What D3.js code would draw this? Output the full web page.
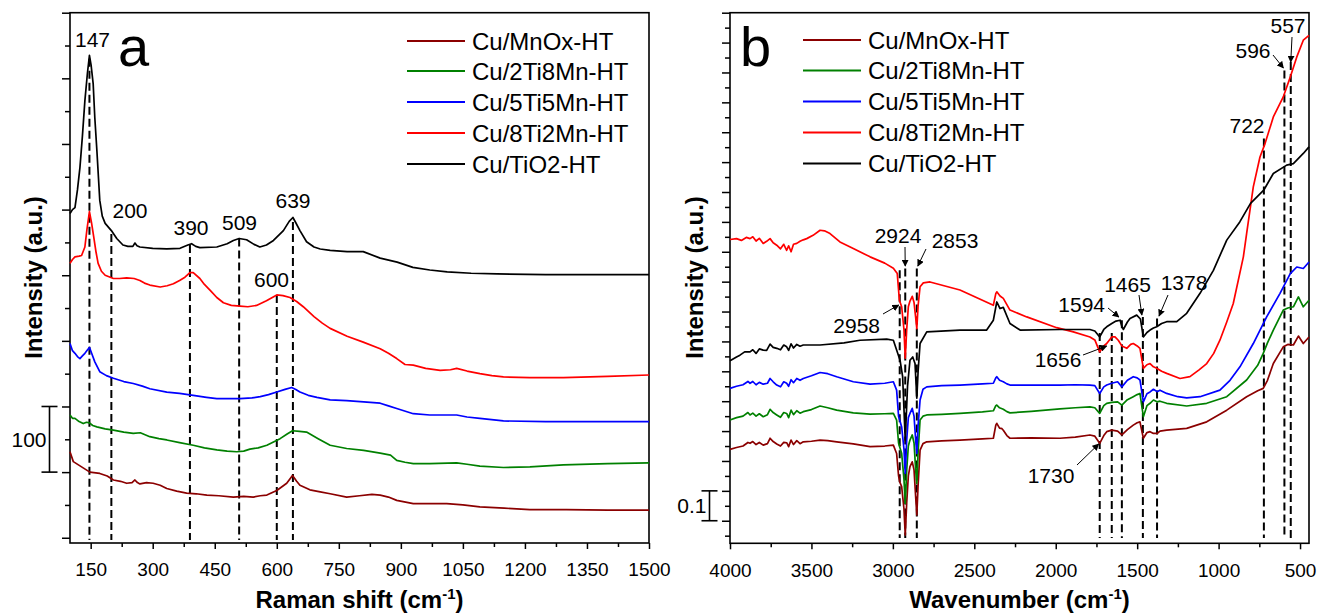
<!DOCTYPE html>
<html>
<head>
<meta charset="utf-8">
<script src="https://cdn.jsdelivr.net/npm/d3@7"></script>
<style>
  body { margin: 0; background: #fff; }
  text { font-family: "Liberation Sans", Arial, sans-serif; fill: #000; }
</style>
</head>
<body>
<svg id="chart" width="1319" height="614"></svg>
<script>
// ---- data ----
var seriesNames = ["Cu/MnOx-HT", "Cu/2Ti8Mn-HT", "Cu/5Ti5Mn-HT", "Cu/8Ti2Mn-HT", "Cu/TiO2-HT"];
var seriesColors = ["#8b0000", "#008000", "#0000ff", "#ff0000", "#000000"];

// Raman spectra, [shift cm-1, intensity]
var ramanMnOx = [[100,131],[108,116],[128,108],[148,100],[172,98],[190,94],[205,88],[222,86],[237,83],[250,84],[257,88],[263,84],[269,82],[285,84],[301,83],[318,80],[334,75],[358,71],[382,68],[405,67],[431,65],[460,64],[495,62],[520,63],[543,62],[560,64],[576,65],[600,72],[624,83],[638,95],[648,86],[656,80],[680,73],[705,70],[729,67],[769,62],[800,64],[830,66],[850,65],[870,62],[890,57],[930,52],[970,52],[1011,52],[1050,50],[1091,47],[1150,45],[1212,43],[1300,43],[1400,42],[1500,42]];
var raman2Ti8Mn = [[100,187],[106,182],[112,182],[122,177],[132,174],[140,176],[147,175],[155,171],[165,169],[185,166],[205,164],[230,161],[253,159],[270,160],[293,154],[315,151],[334,149],[365,145],[398,141],[425,137],[455,134],[480,132],[503,131],[520,132],[535,135],[555,137],[576,141],[592,146],[608,151],[625,158],[638,163],[655,162],[672,161],[700,151],[729,141],[769,136],[810,133],[850,129],[875,126],[890,118],[910,115],[930,113],[970,113],[1035,114],[1060,112],[1091,109],[1148,107],[1212,108],[1293,111],[1400,113],[1500,114]];
var raman5Ti5Mn = [[100,296],[106,285],[112,281],[118,276],[124,273],[130,277],[136,281],[142,286],[147,290],[153,280],[160,268],[172,253],[188,247],[205,243],[230,238],[253,235],[275,231],[293,227],[334,222],[365,220],[398,217],[430,214],[455,212],[511,212],[540,213],[560,215],[580,218],[600,222],[620,226],[636,229],[646,226],[656,222],[676,217],[697,214],[729,210],[769,209],[810,207],[850,205],[870,201],[890,197],[930,189],[970,187],[1003,187],[1035,187],[1060,184],[1091,182],[1148,178],[1250,177],[1350,177],[1500,177]];
var raman8Ti2Mn = [[100,418],[106,424],[112,428],[122,429],[128,430],[136,443],[141,470],[147,497],[152,480],[157,460],[163,435],[168,418],[176,406],[185,400],[205,395],[220,395],[237,396],[255,395],[269,392],[280,388],[293,385],[318,382],[335,384],[350,387],[365,392],[378,397],[390,404],[398,404],[414,395],[425,386],[439,377],[455,366],[471,358],[490,354],[511,353],[530,352],[551,354],[575,361],[600,370],[615,369],[632,366],[648,360],[664,352],[690,337],[710,327],[729,319],[770,307],[809,298],[850,288],[870,281],[890,273],[910,264],[930,263],[960,258],[995,255],[1020,256],[1035,258],[1060,254],[1091,250],[1120,247],[1148,245],[1212,244],[1293,244],[1400,246],[1500,248]];
var ramanTiO2 = [[100,494],[106,500],[112,503],[118,530],[124,564],[130,612],[136,666],[142,707],[147,735],[151,720],[156,692],[160,640],[165,590],[172,514],[178,490],[185,479],[200,468],[213,456],[228,446],[240,444],[252,444],[257,449],[262,445],[269,443],[300,441],[334,440],[366,441],[385,446],[394,448],[404,444],[414,442],[455,443],[480,448],[495,453],[509,456],[527,454],[545,447],[559,443],[575,446],[592,453],[616,468],[630,482],[639,488],[646,480],[656,468],[672,451],[690,443],[705,440],[729,438],[770,436],[809,436],[850,426],[891,420],[929,412],[970,408],[1012,405],[1070,403],[1133,402],[1250,401],[1400,401],[1500,401]];

// FTIR spectra, [wavenumber cm-1, absorbance]
var ftirMnOx = [[4000,0.239],[3960,0.245],[3920,0.250],[3890,0.262],[3877,0.259],[3860,0.265],[3840,0.255],[3820,0.262],[3796,0.253],[3770,0.258],[3754,0.276],[3735,0.265],[3713,0.257],[3690,0.250],[3670,0.262],[3652,0.261],[3640,0.248],[3625,0.270],[3610,0.255],[3590,0.268],[3570,0.258],[3550,0.264],[3500,0.266],[3447,0.270],[3400,0.268],[3345,0.264],[3243,0.257],[3140,0.248],[3050,0.250],[2997,0.253],[2977,0.225],[2965,0.150],[2958,0.130],[2946,0.114],[2932,0.040],[2924,-0.048],[2915,0.060],[2905,0.150],[2895,0.181],[2881,0.197],[2870,0.170],[2860,0.080],[2853,0.019],[2845,0.120],[2833,0.236],[2815,0.258],[2792,0.264],[2700,0.267],[2588,0.270],[2450,0.274],[2383,0.276],[2368,0.320],[2362,0.326],[2345,0.310],[2330,0.308],[2322,0.303],[2300,0.285],[2281,0.276],[2150,0.277],[1974,0.276],[1880,0.280],[1790,0.287],[1760,0.283],[1730,0.259],[1705,0.285],[1687,0.298],[1656,0.303],[1620,0.300],[1594,0.287],[1560,0.305],[1524,0.320],[1500,0.328],[1483,0.331],[1462,0.276],[1440,0.295],[1421,0.298],[1400,0.292],[1378,0.292],[1360,0.300],[1319,0.303],[1196,0.309],[1073,0.331],[950,0.370],[828,0.415],[760,0.435],[726,0.443],[700,0.470],[664,0.526],[603,0.582],[575,0.590],[541,0.588],[510,0.618],[480,0.593],[445,0.615]];
var ftir2Ti8Mn = [[4000,0.337],[3960,0.345],[3920,0.350],[3890,0.362],[3877,0.354],[3860,0.360],[3840,0.350],[3820,0.358],[3796,0.348],[3770,0.355],[3754,0.373],[3735,0.362],[3713,0.354],[3690,0.346],[3670,0.362],[3652,0.359],[3640,0.345],[3625,0.370],[3610,0.355],[3590,0.368],[3570,0.360],[3550,0.365],[3500,0.372],[3447,0.384],[3400,0.378],[3345,0.370],[3243,0.361],[3140,0.357],[3050,0.358],[2997,0.359],[2977,0.337],[2965,0.260],[2958,0.247],[2946,0.225],[2932,0.140],[2924,0.058],[2915,0.170],[2905,0.250],[2895,0.270],[2881,0.287],[2870,0.260],[2860,0.170],[2853,0.125],[2845,0.230],[2833,0.337],[2815,0.350],[2792,0.354],[2700,0.356],[2588,0.359],[2450,0.364],[2383,0.368],[2368,0.385],[2362,0.387],[2345,0.378],[2322,0.373],[2300,0.365],[2281,0.361],[2150,0.366],[1974,0.374],[1880,0.378],[1790,0.381],[1760,0.378],[1730,0.359],[1705,0.385],[1687,0.393],[1656,0.396],[1620,0.398],[1594,0.387],[1560,0.405],[1524,0.415],[1500,0.422],[1483,0.426],[1462,0.348],[1440,0.385],[1421,0.393],[1400,0.404],[1378,0.398],[1360,0.400],[1319,0.393],[1196,0.384],[1073,0.393],[950,0.415],[828,0.471],[760,0.520],[726,0.560],[700,0.595],[664,0.638],[603,0.705],[575,0.712],[541,0.716],[510,0.749],[480,0.716],[445,0.738]];
var ftir5Ti5Mn = [[4000,0.443],[3960,0.450],[3920,0.455],[3890,0.466],[3877,0.460],[3860,0.466],[3840,0.455],[3820,0.463],[3796,0.457],[3770,0.460],[3754,0.476],[3735,0.465],[3713,0.454],[3690,0.448],[3670,0.465],[3652,0.460],[3640,0.450],[3625,0.472],[3610,0.462],[3590,0.476],[3570,0.470],[3550,0.476],[3500,0.485],[3447,0.496],[3400,0.492],[3345,0.482],[3243,0.465],[3140,0.457],[3050,0.460],[2997,0.465],[2977,0.437],[2965,0.350],[2958,0.337],[2946,0.314],[2932,0.240],[2924,0.158],[2915,0.270],[2905,0.345],[2895,0.359],[2881,0.376],[2870,0.350],[2860,0.270],[2853,0.225],[2845,0.320],[2833,0.404],[2815,0.440],[2792,0.448],[2700,0.452],[2588,0.454],[2450,0.458],[2383,0.460],[2368,0.478],[2362,0.482],[2345,0.470],[2322,0.465],[2300,0.458],[2281,0.454],[2150,0.454],[1974,0.454],[1880,0.455],[1790,0.454],[1760,0.452],[1730,0.426],[1705,0.448],[1687,0.454],[1656,0.460],[1620,0.465],[1594,0.448],[1560,0.470],[1524,0.482],[1500,0.478],[1483,0.471],[1462,0.398],[1440,0.425],[1421,0.431],[1400,0.440],[1378,0.432],[1360,0.437],[1319,0.426],[1250,0.415],[1196,0.411],[1114,0.415],[992,0.437],[930,0.470],[869,0.515],[787,0.593],[705,0.682],[623,0.761],[560,0.827],[520,0.849],[480,0.844],[445,0.866]];
var ftir8Ti2Mn = [[4000,0.941],[3960,0.944],[3930,0.938],[3900,0.948],[3877,0.944],[3860,0.950],[3840,0.936],[3820,0.945],[3796,0.928],[3775,0.935],[3754,0.944],[3735,0.930],[3713,0.922],[3690,0.910],[3670,0.925],[3652,0.905],[3640,0.920],[3625,0.900],[3610,0.925],[3590,0.928],[3570,0.935],[3550,0.940],[3529,0.944],[3490,0.955],[3447,0.972],[3420,0.970],[3386,0.961],[3325,0.933],[3243,0.911],[3140,0.883],[3050,0.862],[2997,0.845],[2973,0.827],[2960,0.738],[2946,0.716],[2932,0.640],[2924,0.544],[2915,0.640],[2905,0.716],[2895,0.735],[2881,0.751],[2870,0.730],[2860,0.680],[2853,0.643],[2845,0.720],[2833,0.783],[2813,0.796],[2772,0.799],[2588,0.772],[2383,0.721],[2368,0.760],[2362,0.766],[2342,0.752],[2322,0.744],[2281,0.705],[2178,0.682],[1994,0.646],[1892,0.632],[1790,0.615],[1760,0.605],[1730,0.565],[1705,0.585],[1687,0.593],[1656,0.615],[1636,0.615],[1616,0.604],[1594,0.585],[1564,0.577],[1540,0.590],[1524,0.593],[1500,0.585],[1483,0.577],[1462,0.510],[1440,0.522],[1421,0.526],[1400,0.515],[1380,0.510],[1350,0.500],[1319,0.493],[1237,0.476],[1176,0.482],[1120,0.505],[1073,0.526],[1030,0.560],[992,0.604],[950,0.665],[910,0.727],[848,0.883],[828,0.961],[787,1.117],[746,1.217],[715,1.262],[664,1.351],[603,1.418],[560,1.485],[520,1.552],[480,1.608],[445,1.624]];
var ftirTiO2 = [[4000,0.535],[3960,0.548],[3939,0.554],[3910,0.565],[3877,0.565],[3860,0.572],[3840,0.560],[3820,0.575],[3796,0.571],[3775,0.570],[3754,0.591],[3735,0.580],[3713,0.577],[3690,0.572],[3670,0.588],[3652,0.582],[3640,0.570],[3625,0.592],[3610,0.578],[3590,0.590],[3570,0.584],[3550,0.588],[3500,0.588],[3447,0.588],[3300,0.595],[3202,0.604],[3038,0.608],[2997,0.604],[2977,0.571],[2956,0.537],[2940,0.482],[2924,0.270],[2910,0.450],[2895,0.537],[2878,0.548],[2864,0.526],[2853,0.410],[2845,0.500],[2833,0.593],[2792,0.632],[2588,0.638],[2424,0.638],[2383,0.671],[2362,0.732],[2342,0.710],[2322,0.714],[2281,0.660],[2219,0.638],[1974,0.640],[1790,0.640],[1760,0.635],[1730,0.615],[1705,0.640],[1687,0.649],[1656,0.660],[1630,0.668],[1605,0.671],[1594,0.650],[1585,0.640],[1560,0.665],[1544,0.677],[1503,0.688],[1480,0.675],[1462,0.615],[1440,0.630],[1421,0.638],[1400,0.645],[1380,0.649],[1350,0.660],[1319,0.666],[1257,0.666],[1196,0.694],[1114,0.761],[1032,0.838],[950,0.939],[870,1.000],[804,1.062],[723,1.106],[664,1.162],[582,1.190],[541,1.195],[480,1.229],[445,1.251]];

// marked bands, and the value where each dashed guide starts
var ramanPeaks = [147, 200, 390, 509, 600, 639];
var ramanPeakTops = [730, 463, 446, 456, 370, 481];
var ftirPeaks = [2958, 2924, 2853, 1730, 1656, 1594, 1465, 1378, 722, 596, 557];
var ftirPeakTops = [0.838, 0.844, 0.844, 0.628, 0.628, 0.671, 0.682, 0.677, 1.279, 1.507, 1.535];

// axis ticks
var ramanTicks = [150, 300, 450, 600, 750, 900, 1050, 1200, 1350, 1500];
var ftirTicks = [4000, 3500, 3000, 2500, 2000, 1500, 1000, 500];

var ramanSeries = [ramanMnOx, raman2Ti8Mn, raman5Ti5Mn, raman8Ti2Mn, ramanTiO2];
var ftirSeries = [ftirMnOx, ftir2Ti8Mn, ftir5Ti5Mn, ftir8Ti2Mn, ftirTiO2];

// ---- layout ----
var svg = d3.select("#chart");
var left = {x0: 70, x1: 649, y0: 12.7, y1: 543};
var right = {x0: 730, x1: 1309, y0: 12.7, y1: 543.3};

var xR = d3.scaleLinear().domain([100, 1500]).range([left.x0, left.x1]);
var yR = d3.scaleLinear().domain([-8, 800]).range([left.y1, left.y0]);
var xF = d3.scaleLinear().domain([4000, 445]).range([right.x0, right.x1]);
var yF = d3.scaleLinear().domain([-0.0755, 1.7]).range([right.y1, right.y0]);

svg.append("defs").append("marker")
  .attr("id", "arrow")
  .attr("viewBox", "0 0 10 10")
  .attr("refX", 9).attr("refY", 5)
  .attr("markerWidth", 7).attr("markerHeight", 7)
  .attr("markerUnits", "userSpaceOnUse")
  .attr("orient", "auto")
  .append("path").attr("d", "M0,0 L10,5 L0,10 z").attr("fill", "#000");

function drawAxes(p, xs, ys, majorX, minorX, majorY, minorY) {
  var g = svg.append("g");
  // x major with labels
  var ax = g.append("g").attr("transform", `translate(0,${p.y1})`)
    .call(d3.axisBottom(xs).tickValues(majorX).tickSize(6).tickPadding(14).tickFormat(d3.format("d")));
  ax.select(".domain").remove();
  ax.selectAll("line").attr("stroke-width", 1.5);
  ax.selectAll("text").attr("font-size", 19).attr("font-family", "Liberation Sans, Arial, sans-serif");
  var axm = g.append("g").attr("transform", `translate(0,${p.y1})`)
    .call(d3.axisBottom(xs).tickValues(minorX).tickSize(4).tickFormat(""));
  axm.select(".domain").remove();
  axm.selectAll("line").attr("stroke-width", 1.5);
  // y ticks, no labels
  var ay = g.append("g").attr("transform", `translate(${p.x0},0)`)
    .call(d3.axisLeft(ys).tickValues(majorY).tickSize(8).tickFormat(""));
  ay.select(".domain").remove();
  ay.selectAll("line").attr("stroke-width", 1.5);
  var aym = g.append("g").attr("transform", `translate(${p.x0},0)`)
    .call(d3.axisLeft(ys).tickValues(minorY).tickSize(5).tickFormat(""));
  aym.select(".domain").remove();
  aym.selectAll("line").attr("stroke-width", 1.5);
  // frame
  g.append("rect").attr("x", p.x0).attr("y", p.y0)
    .attr("width", p.x1 - p.x0).attr("height", p.y1 - p.y0)
    .attr("fill", "none").attr("stroke", "#000").attr("stroke-width", 1.6);
}

drawAxes(left, xR, yR, ramanTicks,
  d3.range(225, 1500, 150),
  d3.range(0, 801, 100), d3.range(50, 800, 100));
drawAxes(right, xF, yF, ftirTicks,
  d3.range(3750, 600, -500),
  d3.range(0, 1.71, 0.1), d3.range(-0.05, 1.7, 0.1));

// ---- dashed guides ----
var guides = svg.append("g").attr("stroke", "#000").attr("stroke-width", 2).attr("stroke-dasharray", "8,4");
ramanPeaks.forEach(function (p, i) {
  guides.append("line").attr("x1", xR(p)).attr("x2", xR(p))
    .attr("y1", yR(ramanPeakTops[i])).attr("y2", yR(-3.5));
});
ftirPeaks.forEach(function (p, i) {
  guides.append("line").attr("x1", xF(p)).attr("x2", xF(p))
    .attr("y1", yF(ftirPeakTops[i])).attr("y2", yF(-0.058));
});

// ---- spectra ----
var lineR = d3.line().x(d => xR(d[0])).y(d => yR(d[1]));
var lineF = d3.line().x(d => xF(d[0])).y(d => yF(d[1]));

ramanSeries.forEach(function (s, i) {
  svg.append("path").datum(s).attr("d", lineR)
    .attr("fill", "none").attr("stroke", seriesColors[i]).attr("stroke-width", 1.7)
    .attr("stroke-linejoin", "round");
});
ftirSeries.forEach(function (s, i) {
  svg.append("path").datum(s).attr("d", lineF)
    .attr("fill", "none").attr("stroke", seriesColors[i]).attr("stroke-width", 1.7)
    .attr("stroke-linejoin", "round");
});

// ---- legends ----
function legend(x, rows) {
  var g = svg.append("g");
  seriesNames.forEach(function (n, i) {
    g.append("line").attr("x1", x).attr("x2", x + 58)
      .attr("y1", rows[i]).attr("y2", rows[i])
      .attr("stroke", seriesColors[i]).attr("stroke-width", 2);
    g.append("text").attr("x", x + 65).attr("y", rows[i] + 8.5)
      .attr("font-size", 24).text(n);
  });
}
legend(407, [41, 71, 102, 133, 164]);
legend(803, [40, 70.5, 101.5, 132.5, 163.5]);

// ---- panel letters ----
svg.append("text").attr("x", 118).attr("y", 66).attr("font-size", 56).text("a");
svg.append("text").attr("x", 740).attr("y", 66).attr("font-size", 56).text("b");

// ---- peak labels, left ----
var ramanLabelPos = [[92.5, 47], [130, 218], [191, 235], [239.5, 230], [271.5, 287], [293, 208]];
ramanPeaks.forEach(function (p, i) {
  svg.append("text").attr("x", ramanLabelPos[i][0]).attr("y", ramanLabelPos[i][1])
    .attr("font-size", 21).attr("text-anchor", "middle").text(p);
});

// ---- peak labels and arrows, right ----
// [label x, label baseline, arrow start x, arrow start y, arrow end dx from band, arrow end y]
var ftirLabelPos = [
  [856.7, 333, 883, 314, -1, 305],
  [898, 243, 905, 247, 0, 266],
  [955, 248, 926, 249, 1, 266],
  [1051, 483, 1077, 465, -1, 444],
  [1058, 366.7, 1083, 355, -5, 346],
  [1081.7, 311.7, 1108, 308, -3, 317],
  [1127.5, 291.7, 1139, 295, -1, 315],
  [1184, 290, 1168, 295, 2, 316],
  [1247, 133, null],
  [1253, 58, 1273, 55, -1, 68],
  [1288, 33, 1292, 37, 0, 62]
];
ftirPeaks.forEach(function (p, i) {
  var L = ftirLabelPos[i];
  svg.append("text").attr("x", L[0]).attr("y", L[1])
    .attr("font-size", 21).attr("text-anchor", "middle").text(p);
  if (L[2] != null) {
    svg.append("line").attr("x1", L[2]).attr("y1", L[3])
      .attr("x2", xF(p) + L[4]).attr("y2", L[5])
      .attr("stroke", "#000").attr("stroke-width", 1)
      .attr("marker-end", "url(#arrow)");
  }
});

// ---- scale bars ----
function scaleBar(x, yTop, yBot, label) {
  var g = svg.append("g").attr("stroke", "#000").attr("stroke-width", 1.6);
  g.append("line").attr("x1", x).attr("x2", x).attr("y1", yTop).attr("y2", yBot);
  g.append("line").attr("x1", x - 8).attr("x2", x + 8).attr("y1", yTop).attr("y2", yTop);
  g.append("line").attr("x1", x - 8).attr("x2", x + 8).attr("y1", yBot).attr("y2", yBot);
  svg.append("text").attr("x", x - 3).attr("y", (yTop + yBot) / 2 + 7.5)
    .attr("font-size", 21).attr("text-anchor", "end").text(label);
}
scaleBar(49.5, yR(200), yR(100), "100");
scaleBar(709.5, yF(0.1), yF(0), "0.1");

// ---- axis titles ----
function xTitle(cx, label) {
  var t = svg.append("text").attr("x", cx).attr("y", 608).attr("font-size", 24)
    .attr("font-weight", "bold").attr("text-anchor", "middle");
  t.append("tspan").text(label + " (cm");
  t.append("tspan").attr("font-size", 15).attr("dy", -9).text("-1");
  t.append("tspan").attr("dy", 9).text(")");
}
xTitle((left.x0 + left.x1) / 2, "Raman shift");
xTitle((right.x0 + right.x1) / 2, "Wavenumber");

function yTitle(x) {
  svg.append("text").attr("transform", `translate(${x},277.5) rotate(-90)`)
    .attr("font-size", 24).attr("font-weight", "bold").attr("text-anchor", "middle")
    .text("Intensity (a.u.)");
}
yTitle(41.5);
yTitle(703);
</script>
</body>
</html>
